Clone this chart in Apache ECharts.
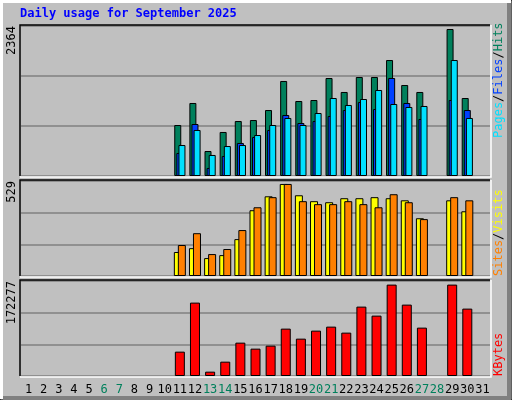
<!DOCTYPE html>
<html><head><meta charset="utf-8">
<script src="https://cdn.jsdelivr.net/npm/echarts@6/dist/echarts.min.js"></script>
<style>html,body{margin:0;padding:0;background:#c0c0c0;}#c{width:512px;height:400px;}</style>
</head><body><div id="c"></div>
<script>
const days = Array.from({length:31},(_,i)=>String(i+1));
const weekendDays = ['6','7','13','14','20','21','27','28'];
const hits  = [0,0,0,0,0,0,0,0,0,0,820,1174,402,708,884,900,1061,1528,1206,1222,1576,1351,1592,1592,1865,1463,1351,0,2364,1254,0];
const files = [0,0,0,0,0,0,0,0,0,0,370,836,129,322,531,627,740,981,852,884,965,1061,1190,1077,1576,1174,917,0,1222,1061,0];
const pages = [0,0,0,0,0,0,0,0,0,0,498,740,338,482,498,659,820,933,820,1013,1254,1142,1238,1383,1158,1110,1126,0,1865,933,0];
const sites = [0,0,0,0,0,0,0,0,0,0,138,160,103,120,212,378,458,529,464,430,424,447,447,453,447,435,332,0,435,372,0];
const visits= [0,0,0,0,0,0,0,0,0,0,178,246,126,155,264,395,453,529,430,413,413,430,413,395,470,424,327,0,453,435,0];
const kbytes= [0,0,0,0,0,0,0,0,0,0,45897,138314,8173,27034,62870,51553,57212,89275,70414,85503,93048,81731,130770,113795,172277,134542,91162,0,172277,127000,0];
const maxLabels = ['2364','529','172277'];

const font = 'DejaVu Sans Mono';
const nz = a => a.map(v => v === 0 ? null : v);
const grids = [{left:21,width:469,top:26,height:150},{left:21,width:469,top:181,height:95},{left:21,width:469,top:281,height:95}];
const ymax = [2412,546,179070];
const xAxes = grids.map((g,i)=>({gridIndex:i,type:'category',data:days,axisLine:{show:false},axisTick:{show:false},
  axisLabel:{show:i===2,margin:8,fontFamily:font,fontSize:12,interval:0,
    color:(v)=>weekendDays.includes(v)?'#00805c':'#000'}}));
const yAxes = grids.map((g,i)=>({gridIndex:i,type:'value',min:0,max:ymax[i],interval:ymax[i]/3,
  axisLabel:{show:false},axisLine:{show:false},axisTick:{show:false},
  splitLine:{lineStyle:{color:'#808080',width:1.5}}}));
const bs = {borderColor:'#000',borderWidth:1};
function bar(name,data,color,gi,w,gap){return {name,type:'bar',xAxisIndex:gi,yAxisIndex:gi,data:nz(data),barWidth:w,barGap:gap,
  itemStyle:Object.assign({color},bs),animation:false};}
const series = [
  bar('Hits',hits,'#00805c',0,7,'-70%'),
  bar('Files',files,'#0040ff',0,7,'-70%'),
  bar('Pages',pages,'#00e0ff',0,7,'-70%'),
  bar('Sites',sites,'#ffff00',1,8,'-50%'),
  bar('Visits',visits,'#ff8000',1,8,'-50%'),
  bar('KBytes',kbytes,'#ff0000',2,10,'0%')
];
const graphic = [
  {type:'rect',shape:{x:0,y:0,width:512,height:400},style:{fill:'none',stroke:'#000',lineWidth:1}},
  {type:'polyline',shape:{points:[[1,399],[1,1],[511,1]]},style:{stroke:'#fff',lineWidth:4,fill:null}},
  {type:'polyline',shape:{points:[[3,398],[509,398],[509,3]]},style:{stroke:'#808080',lineWidth:4,fill:null}},
  {type:'text',left:20,top:8,style:{text:'Daily usage for September 2025',fill:'#0000ff',font:'bold 12px "DejaVu Sans Mono"'}},
];
grids.forEach((g,i)=>{
  const x0=g.left-1,y0=g.top-1,x1=g.left+g.width,y1=g.top+g.height;
  graphic.push({type:'polyline',shape:{points:[[x0,y1],[x0,y0],[x1,y0]]},style:{stroke:'#000',lineWidth:1.5,fill:null},z:10});
  graphic.push({type:'polyline',shape:{points:[[x0,y1+1],[x1+1,y1+1],[x1+1,y0]]},style:{stroke:'#fff',lineWidth:1.5,fill:null},z:10});
  graphic.push({type:'text',x:6,y:g.top,rotation:Math.PI/2,style:{text:maxLabels[i],fill:'#000',font:'12px "DejaVu Sans Mono"',textAlign:'right',textVerticalAlign:'top'}});
});
const rf = c=>({fill:c,font:'12px "DejaVu Sans Mono"'});
graphic.push({type:'text',x:493,y:grids[0].top+grids[0].height-38,rotation:Math.PI/2,style:{rich:{p:rf('#00e0ff'),f:rf('#0040ff'),h:rf('#00805c'),s:rf('#000')},text:'{p|Pages}{s|/}{f|Files}{s|/}{h|Hits}',textAlign:'left',textVerticalAlign:'top',x:0,y:0}});
graphic.push({type:'text',x:493,y:grids[1].top+grids[1].height,rotation:Math.PI/2,style:{rich:{a:rf('#ff8000'),b:rf('#ffff00'),s:rf('#000')},text:'{a|Sites}{s|/}{b|Visits}',textAlign:'left',textVerticalAlign:'top'}});
graphic.push({type:'text',x:493,y:grids[2].top+grids[2].height,rotation:Math.PI/2,style:{text:'KBytes',fill:'#ff0000',font:'12px "DejaVu Sans Mono"',textAlign:'left',textVerticalAlign:'top'}});

const chart = echarts.init(document.getElementById('c'));
chart.setOption({backgroundColor:'#c0c0c0',animation:false,grid:grids,xAxis:xAxes,yAxis:yAxes,series,graphic});
</script></body></html>
